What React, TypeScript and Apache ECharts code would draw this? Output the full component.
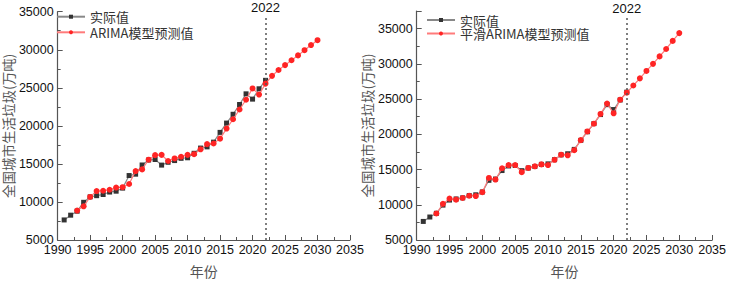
import React, { useEffect, useRef } from "react";
import * as echarts from "echarts";

const actualYears = [1991, 1992, 1993, 1994, 1995, 1996, 1997, 1998, 1999, 2000, 2001, 2002, 2003, 2004, 2005, 2006, 2007, 2008, 2009, 2010, 2011, 2012, 2013, 2014, 2015, 2016, 2017, 2018, 2019, 2020, 2021, 2022];
const actualValues = [7636, 8262, 8791, 9952, 10671, 10825, 10982, 11302, 11415, 11819, 13470, 13650, 14857, 15509, 15577, 14841, 15215, 15438, 15734, 15805, 16395, 17081, 17239, 17860, 19142, 20362, 21521, 22802, 24206, 23512, 24869, 25980];

const predYears = [1993, 1994, 1995, 1996, 1997, 1998, 1999, 2000, 2001, 2002, 2003, 2004, 2005, 2006, 2007, 2008, 2009, 2010, 2011, 2012, 2013, 2014, 2015, 2016, 2017, 2018, 2019, 2020, 2021, 2022, 2023, 2024, 2025, 2026, 2027, 2028, 2029, 2030];
const arimaValues = [8870, 9430, 10660, 11430, 11470, 11600, 11890, 11940, 12360, 14060, 14280, 15550, 16150, 16190, 15380, 15720, 15940, 16190, 16280, 16920, 17600, 17680, 18320, 19640, 20870, 22150, 23430, 24920, 24110, 25550, 26570, 27340, 27980, 28620, 29260, 29940, 30620, 31260];
const smoothArimaValues = [8760, 10140, 10870, 10730, 10960, 11280, 11240, 11790, 13810, 13580, 15180, 15640, 15640, 14630, 15230, 15460, 15730, 15640, 16380, 17110, 17020, 17750, 19170, 20410, 21510, 22890, 24360, 22980, 24910, 25920, 26930, 27940, 28990, 30000, 31060, 32110, 33260, 34360];

const xTicks = { min: 1990, max: 2035, interval: 5 };
const markYear = 2022;
const legendActual = "实际值";
const legendArima = "ARIMA模型预测值";
const legendSmooth = "平滑ARIMA模型预测值";
const yName = "全国城市生活垃圾(万吨)";
const xName = "年份";

const pairs = (xs: number[], ys: number[]) => xs.map((x, i) => [x, ys[i]]);

const FONT = "'Liberation Sans', 'Noto Sans CJK SC', sans-serif";
const CJK = "'Noto Sans CJK SC', 'Liberation Sans', sans-serif";

export default function App() {
  const ref = useRef<HTMLDivElement>(null);
  useEffect(() => {
    if (!ref.current) return;
    const chart = echarts.init(ref.current, null, { renderer: "svg" });

    const axisLine = { show: true, lineStyle: { color: "#555", width: 1.2 } };
    const plain = (v: number) => String(v);
    const mkX = (gridIndex: number) => ({
      type: "value",
      gridIndex,
      min: xTicks.min,
      max: xTicks.max,
      interval: xTicks.interval,
      name: xName,
      nameLocation: "middle",
      nameGap: 24,
      nameTextStyle: { fontFamily: CJK, fontSize: 14, color: "#555" },
      axisLine,
      axisTick: { show: true, inside: true, length: 5, lineStyle: { color: "#555" } },
      minorTick: { show: true, splitNumber: 2, length: 3, lineStyle: { color: "#555" } },
      axisLabel: { fontFamily: FONT, fontSize: 12.5, color: "#111", margin: 4, formatter: plain },
      splitLine: { show: false },
    });
    const mkY = (gridIndex: number, max: number, gap: number) => ({
      type: "value",
      gridIndex,
      min: 5000,
      max,
      interval: 5000,
      name: yName,
      nameLocation: "middle",
      nameRotate: 90,
      nameGap: gap,
      nameTextStyle: { fontFamily: CJK, fontSize: 13.5, color: "#555", lineHeight: 14 },
      axisLine,
      axisTick: { show: true, inside: true, length: 5, lineStyle: { color: "#555" } },
      minorTick: { show: true, splitNumber: 2, length: 3, lineStyle: { color: "#555" } },
      axisLabel: {
        fontFamily: FONT,
        fontSize: 12.5,
        color: "#111",
        margin: 4,
        formatter: plain,
        showMaxLabel: max % 5000 === 0,
      },
      splitLine: { show: false },
    });

    const actualSeries = (i: number) => ({
      name: legendActual,
      type: "line",
      xAxisIndex: i,
      yAxisIndex: i,
      data: pairs(actualYears, actualValues),
      symbol: "rect",
      symbolSize: 5,
      itemStyle: { color: "#333" },
      lineStyle: { color: "#888", width: 1.2 },
      z: 2,
    });
    const predSeries = (i: number, name: string, vals: number[], topVal: number) => ({
      name,
      type: "line",
      xAxisIndex: i,
      yAxisIndex: i,
      data: pairs(predYears, vals),
      symbol: "circle",
      symbolSize: 6,
      itemStyle: { color: "#ff2424" },
      lineStyle: { color: "#ff7b7b", width: 1.2 },
      z: 3,
      markLine: {
        silent: true,
        symbol: "none",
        animation: false,
        lineStyle: { color: "#555", type: [2, 3], width: 1.5 },
        label: {
          show: true,
          position: "end",
          formatter: String(markYear),
          fontFamily: FONT,
          fontSize: 13,
          color: "#111",
          distance: 3,
        },
        data: [[{ coord: [markYear, 5000] }, { coord: [markYear, topVal] }]],
      },
    });

    const legendText = { fontFamily: CJK, fontSize: 13, color: "#333", lineHeight: 14 };
    const mkLegend = (left: number, centerY: number, name: string) => ({
      left,
      top: centerY - 7,
      padding: 0,
      itemWidth: 28,
      itemHeight: 5,
      textStyle: legendText,
      data: [name],
    });

    chart.setOption({
      animation: false,
      backgroundColor: "#fff",
      grid: [
        { left: 50, top: 11.7, width: 300, height: 235 },
        { left: 416.7, top: 11, width: 301, height: 236.3 },
      ],
      legend: [
        mkLegend(56, 16.7, legendActual),
        mkLegend(56, 32.3, legendArima),
        mkLegend(426, 20, legendActual),
        mkLegend(426, 33.5, legendSmooth),
      ],
      xAxis: [mkX(0), mkX(1)],
      yAxis: [mkY(0, 35000, 33), mkY(1, 37500, 38)],
      series: [
        actualSeries(0),
        predSeries(0, legendArima, arimaValues, 34300),
        actualSeries(1),
        predSeries(1, legendSmooth, smoothArimaValues, 36500),
      ],
    });
    return () => chart.dispose();
  }, []);
  return (
    <div
      ref={ref}
      style={{ position: "fixed", left: 0, top: 0, width: 729, height: 283 }}
    />
  );
}
